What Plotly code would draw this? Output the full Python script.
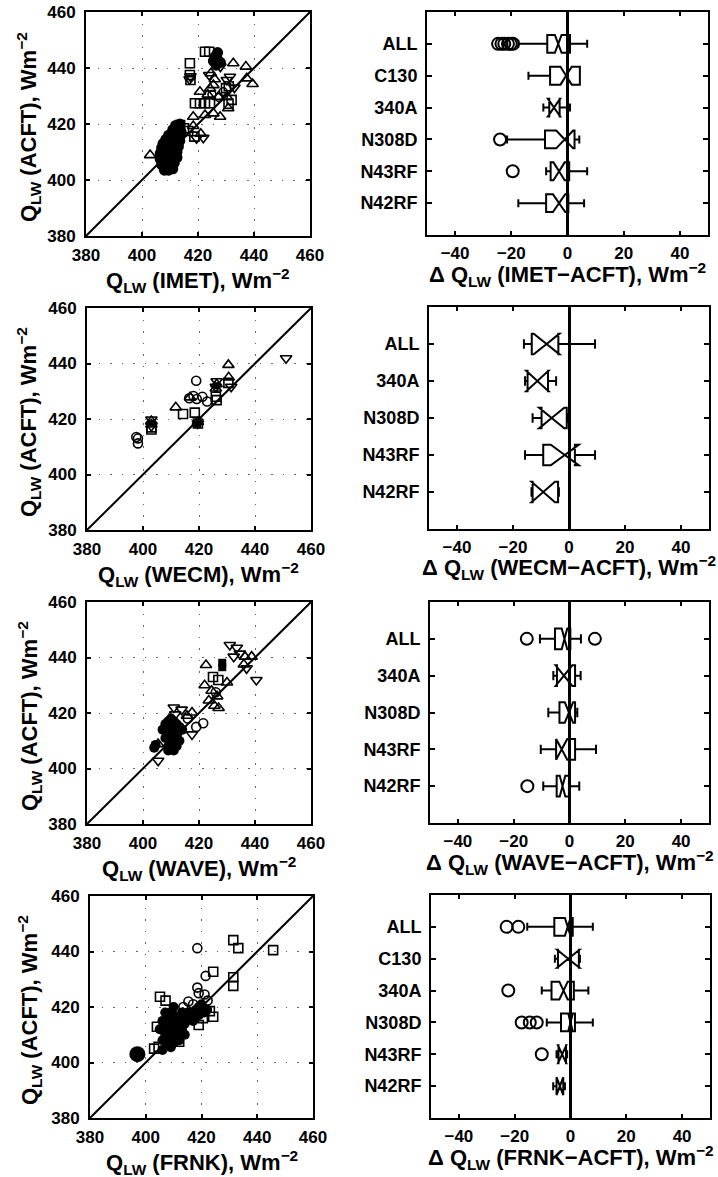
import plotly.graph_objects as go

W, H = 718, 1177
FONT = "Liberation Sans, Arial, sans-serif"

# ---------------- scatter panels: x = buoy/ship estimate, y = aircraft (ACFT) ----------------
# Panel 1: IMET
imet_sq_x = [422.5, 424.0, 417.1, 417.1, 417.3, 418.9, 420.7, 422.5, 424.3, 432.0, 430.9, 418.7, 413.6, 412.5, 430.0, 431.0, 415.0, 416.5]
imet_sq_y = [445.8, 445.8, 441.7, 437.5, 435.7, 427.4, 427.4, 427.4, 427.4, 428.6, 427.2, 415.5, 419.6, 418.8, 432.8, 433.5, 418.5, 417.5]
imet_tu_x = [402.9, 424.6, 432.6, 437.1, 439.5, 437.4, 420.7, 424.3, 425.5, 427.3, 430.3, 430.8, 427.9, 425.5, 422.5, 418.3, 418.3, 421.0, 426.0, 423.5]
imet_tu_y = [408.9, 438.1, 441.7, 440.5, 434.3, 436.3, 431.5, 432.7, 433.9, 429.7, 429.7, 425.6, 422.6, 423.8, 423.2, 422.6, 419.3, 416.5, 436.0, 430.5]
imet_td_x = [421.9, 419.5, 431.4, 430.3, 417.3, 417.0, 424.0, 428.0, 426.5, 433.0]
imet_td_y = [415.1, 414.9, 436.9, 435.7, 437.0, 436.0, 437.5, 440.5, 441.5, 433.0]
imet_co_x = [427.5, 425.0, 414.0, 429.0]
imet_co_y = [429.5, 430.5, 417.0, 431.5]
imet_fc_x = [408.0, 409.5, 411.0, 407.0, 408.5, 410.0, 411.5, 406.5, 408.0, 409.5, 411.0, 412.5, 406.5, 408.0, 409.5,
             411.0, 412.5, 407.0, 408.5, 410.0, 411.5, 413.0, 407.5, 409.0, 410.5, 412.0, 413.5, 408.5, 410.0, 411.5,
             413.0, 409.5, 411.0, 412.5, 414.0, 411.0, 412.5, 413.5, 412.0, 413.5,
             426.0, 427.0, 426.5, 427.0, 428.0, 425.5]
imet_fc_y = [403.5, 403.5, 404.0, 405.5, 405.5, 405.5, 406.0, 407.5, 407.5, 407.5, 407.5, 408.0, 409.5, 409.5, 409.5,
             409.5, 410.0, 411.5, 411.5, 411.5, 411.5, 412.0, 413.0, 413.0, 413.0, 413.5, 414.0, 414.5, 414.5, 415.0,
             415.5, 416.0, 416.5, 416.5, 417.0, 418.0, 418.0, 418.5, 419.5, 420.0,
             444.0, 443.0, 441.0, 445.5, 442.0, 442.5]

# Panel 2: WECM
wecm_sq_x = [426.3, 426.0, 414.3, 418.5, 419.6, 403.0, 403.0, 430.5]
wecm_sq_y = [426.8, 428.0, 421.8, 422.3, 418.4, 417.0, 416.2, 433.0]
wecm_tu_x = [430.5, 430.6, 426.3, 426.0, 416.8, 411.7, 419.6, 403.0, 403.0]
wecm_tu_y = [439.5, 435.0, 432.5, 431.0, 427.8, 424.2, 418.9, 419.3, 418.0]
wecm_td_x = [451.1, 431.5, 426.3, 426.0, 419.6, 403.0, 403.0]
wecm_td_y = [441.9, 431.6, 433.6, 431.6, 418.4, 419.8, 417.5]
wecm_co_x = [419.0, 418.0, 421.2, 422.9, 419.2, 398.2, 398.2, 397.6, 416.5]
wecm_co_y = [433.8, 428.3, 428.0, 426.3, 427.2, 413.0, 411.2, 413.5, 427.5]
wecm_fs_x = [419.5, 426.3, 403.0]
wecm_fs_y = [418.0, 432.0, 418.5]

# Panel 3: WAVE
wave_sq_x = [426.9, 425.0]
wave_sq_y = [431.9, 433.0]
wave_fs_x = [428.3, 428.3]
wave_fs_y = [438.1, 436.5]
wave_tu_x = [436.4, 438.8, 422.5, 422.0, 423.5, 426.5, 427.0, 424.5, 425.5, 417.5, 415.7, 405.4, 436.0, 430.0]
wave_tu_y = [440.3, 440.3, 437.3, 430.0, 424.5, 426.0, 421.8, 428.0, 422.6, 420.2, 419.0, 408.8, 437.5, 431.0]
wave_td_x = [431.0, 433.5, 434.6, 432.4, 437.0, 440.5, 413.8, 417.5, 405.4, 411.0, 411.5]
wave_td_y = [444.5, 443.5, 441.4, 440.3, 436.1, 431.9, 421.2, 412.3, 402.8, 422.0, 419.5]
wave_co_x = [421.5, 419.0, 416.0, 426.0]
wave_co_y = [416.3, 415.0, 418.0, 427.5]
wave_fc_x = [407.0, 408.0, 409.0, 410.0, 411.0, 412.0, 409.0, 410.0, 411.0, 409.0, 410.0, 411.0, 412.0, 413.0, 408.0,
             409.0, 411.0, 412.0, 413.0, 414.0, 404.5, 404.0, 408.5, 410.5, 412.5]
wave_fc_y = [414.0, 416.0, 417.0, 418.0, 417.0, 416.0, 412.0, 410.0, 408.0, 408.0, 414.0, 413.0, 411.0, 415.0, 411.0,
             406.5, 406.5, 408.0, 410.0, 414.0, 408.5, 407.5, 413.5, 415.5, 413.0]

# Panel 4: FRNK
frnk_co_x = [418.5, 421.5, 418.5, 421.1, 422.2, 415.3, 420.0, 417.0, 419.0, 413.5]
frnk_co_y = [441.2, 431.2, 427.0, 424.5, 422.3, 422.0, 419.5, 421.0, 425.0, 420.0]
frnk_sq_x = [431.4, 433.2, 445.7, 424.2, 431.4, 431.4, 405.1, 407.1, 424.2, 423.0, 404.0, 404.6, 419.0, 420.5, 412.0, 403.0]
frnk_sq_y = [444.1, 441.2, 440.5, 432.7, 430.7, 427.6, 423.7, 422.3, 416.5, 418.5, 412.9, 405.7, 413.5, 416.0, 407.5, 405.0]
frnk_big_x = [397.0]
frnk_big_y = [403.0]
frnk_fc_x = [406, 407, 408, 407, 408, 409, 410, 409, 410, 411, 412, 413, 411, 410, 409, 408, 412, 413, 414, 415, 416, 417,
             418, 419, 421, 422, 414, 406, 405, 407, 406, 408, 409, 411, 413, 415, 417, 419, 420, 410]
frnk_fc_y = [408, 410, 412, 414, 416, 418, 417, 410, 412, 414, 416, 418, 410, 407, 405.5, 406.5, 408, 412, 414, 416, 418,
             417, 419, 420, 418, 419, 410, 404.5, 412, 418, 415, 409, 414, 408, 415, 418, 415, 417, 421, 420]

diag = [380, 460]
scatter_ticks = [380, 400, 420, 440, 460]
scatter_names = ["IMET", "WECM", "WAVE", "FRNK"]

# ---------------- box panels: difference (estimate - ACFT) by aircraft ----------------
box_ticks = [-40, -20, 0, 20, 40]

imet_cats = ["ALL", "C130", "340A", "N308D", "N43RF", "N42RF"]
imet_q1 = [-7.2, -6.2, -6.5, -8.0, -6.0, -7.6]
imet_med = [-3.3, -0.5, -4.8, -1.0, -3.0, -3.0]
imet_q3 = [0.9, 4.4, -2.8, 2.5, 0.6, 0.3]
imet_lf = [-17.5, -13.9, -8.6, -21.5, -7.6, -17.5]
imet_uf = [7.0, 4.4, 0.9, 4.2, 7.0, 5.9]
imet_notch = [1.2, 2.0, 2.2, 3.0, 2.0, 2.2]
imet_out_cat = [1, 1, 1, 1, 1, 1, 4, 5]
imet_out_val = [-24.7, -23.5, -22.5, -21.2, -20.2, -19.4, -24.0, -19.5]

wecm_cats = ["ALL", "340A", "N308D", "N43RF", "N42RF"]
wecm_q1 = [-13.3, -14.8, -9.8, -9.2, -13.0]
wecm_med = [-8.0, -11.3, -6.2, -1.5, -9.2]
wecm_q3 = [-3.8, -7.5, -0.8, 2.1, -3.9]
wecm_lf = [-16.1, -15.7, -13.0, -15.7, -13.3]
wecm_uf = [9.3, -4.6, -0.3, 9.3, -3.6]
wecm_notch = [4.6, 4.0, 4.5, 5.0, 4.2]
wecm_out_cat = []
wecm_out_val = []

wave_cats = ["ALL", "340A", "N308D", "N43RF", "N42RF"]
wave_q1 = [-5.2, -4.5, -3.6, -4.8, -4.6]
wave_med = [-1.8, -2.0, -0.2, -2.8, -2.5]
wave_q3 = [0.3, 2.0, 2.0, 2.0, -0.2]
wave_lf = [-10.6, -5.8, -7.6, -10.3, -9.4]
wave_uf = [4.1, 4.0, 2.8, 9.5, 3.5]
wave_notch = [1.0, 3.0, 1.5, 2.0, 1.0]
wave_out_cat = [1, 1, 5]
wave_out_val = [-15.3, 9.1, -15.1]

frnk_cats = ["ALL", "C130", "340A", "N308D", "N43RF", "N42RF"]
frnk_q1 = [-5.8, -4.5, -6.8, -3.4, -4.3, -5.0]
frnk_med = [-1.0, -0.8, -2.5, 0.0, -3.0, -3.8]
frnk_q3 = [0.8, 3.0, 1.2, 1.6, -1.6, -2.6]
frnk_lf = [-15.5, -5.6, -10.3, -8.5, -5.0, -6.2]
frnk_uf = [8.0, 3.4, 6.4, 8.0, -1.2, -2.0]
frnk_notch = [1.0, 4.0, 1.5, 0.8, 1.5, 1.2]
frnk_out_cat = [1, 1, 3, 4, 4, 4, 5]
frnk_out_val = [-22.9, -18.7, -22.3, -17.5, -14.6, -12.1, -10.3]

# ---------------- layout geometry (pixels) ----------------
scatter_px = [(86, 310, 12, 236), (87, 311, 308, 530), (87, 311, 602, 824), (90, 313, 896, 1118)]
box_px = [(427, 708, 12, 235), (429, 709, 307, 529), (430, 709, 602, 823), (431, 710, 895, 1118)]


def dx(a, b):
    return [a / W, b / W]


def dy(top, bot):
    return [1 - bot / H, 1 - top / H]


fig = go.Figure()


def mk(sym, size, lw=1.6):
    return dict(symbol=sym, size=size, color="black", line=dict(color="black", width=lw))


scatter_sets = [
    [(imet_sq_x, imet_sq_y, mk("square-open", 9)), (imet_tu_x, imet_tu_y, mk("triangle-up-open", 10)),
     (imet_td_x, imet_td_y, mk("triangle-down-open", 10)), (imet_co_x, imet_co_y, mk("circle-open", 8)),
     (imet_fc_x, imet_fc_y, mk("circle", 11, 0))],
    [(wecm_sq_x, wecm_sq_y, mk("square-open", 9)), (wecm_tu_x, wecm_tu_y, mk("triangle-up-open", 10)),
     (wecm_td_x, wecm_td_y, mk("triangle-down-open", 10)), (wecm_co_x, wecm_co_y, mk("circle-open", 9)),
     (wecm_fs_x, wecm_fs_y, mk("square", 7, 0))],
    [(wave_sq_x, wave_sq_y, mk("square-open", 9)), (wave_fs_x, wave_fs_y, mk("square", 8, 0)),
     (wave_tu_x, wave_tu_y, mk("triangle-up-open", 10)), (wave_td_x, wave_td_y, mk("triangle-down-open", 10)),
     (wave_co_x, wave_co_y, mk("circle-open", 9)), (wave_fc_x, wave_fc_y, mk("circle", 10, 0))],
    [(frnk_co_x, frnk_co_y, mk("circle-open", 9)), (frnk_sq_x, frnk_sq_y, mk("square-open", 9)),
     (frnk_fc_x, frnk_fc_y, mk("circle", 10, 0)), (frnk_big_x, frnk_big_y, mk("circle", 16, 0))],
]

box_sets = [
    (imet_cats, imet_q1, imet_med, imet_q3, imet_lf, imet_uf, imet_notch, imet_out_cat, imet_out_val),
    (wecm_cats, wecm_q1, wecm_med, wecm_q3, wecm_lf, wecm_uf, wecm_notch, wecm_out_cat, wecm_out_val),
    (wave_cats, wave_q1, wave_med, wave_q3, wave_lf, wave_uf, wave_notch, wave_out_cat, wave_out_val),
    (frnk_cats, frnk_q1, frnk_med, frnk_q3, frnk_lf, frnk_uf, frnk_notch, frnk_out_cat, frnk_out_val),
]

layout = dict(
    template="none",
    width=W, height=H, margin=dict(l=0, r=0, t=0, b=0, pad=0, autoexpand=False),
    paper_bgcolor="white", plot_bgcolor="white", showlegend=False,
    font=dict(family=FONT, size=17, color="black", weight="bold"),
)

axis_common = dict(showline=True, linecolor="black", linewidth=2, mirror="ticks", ticks="inside",
                   ticklen=4, tickwidth=1.5, tickcolor="black", zeroline=False, automargin=False,
                   tickfont=dict(family=FONT, size=17, color="black", weight="bold"))

annotations = []
TITLE_FONT = dict(family=FONT, size=22, color="black", weight="bold")

for i in range(4):
    sx, bx = 2 * i + 1, 2 * i + 2
    xs = "x" if sx == 1 else f"x{sx}"
    ys = "y" if sx == 1 else f"y{sx}"
    xb, yb = f"x{bx}", f"y{bx}"
    l, r, t, b = scatter_px[i]
    # 1:1 line
    fig.add_trace(go.Scatter(x=diag, y=diag, mode="lines", line=dict(color="black", width=2),
                             xaxis=xs, yaxis=ys, hoverinfo="skip"))
    for (px_, py_, m) in scatter_sets[i]:
        fig.add_trace(go.Scatter(x=px_, y=py_, mode="markers", marker=m, xaxis=xs, yaxis=ys))
    layout["xaxis" if sx == 1 else f"xaxis{sx}"] = dict(
        axis_common, domain=dx(l, r), anchor=ys, range=[380, 460], tickvals=scatter_ticks,
        showgrid=True, gridcolor="#666", griddash="1.5px,10px", gridwidth=1, ticklabelstandoff=3)
    layout["yaxis" if sx == 1 else f"yaxis{sx}"] = dict(
        axis_common, domain=dy(t, b), anchor=xs, range=[380, 460], tickvals=scatter_ticks,
        showgrid=True, gridcolor="#666", griddash="1.5px,10px", gridwidth=1, ticklabelstandoff=5)
    annotations.append(dict(
        text=f"Q<sub>LW</sub> ({scatter_names[i]}), Wm<sup>\u22122</sup>", xref="paper", yref="paper",
        x=(l + r) / 2 / W, y=1 - (b + 44) / H, xanchor="center", yanchor="middle", showarrow=False,
        font=TITLE_FONT))
    annotations.append(dict(
        text="Q<sub>LW</sub> (ACFT), Wm<sup>\u22122</sup>", xref="paper", yref="paper",
        x=29 / W, y=1 - ((t + b) / 2 + 3) / H, xanchor="center", yanchor="middle", showarrow=False,
        textangle=-90, font=TITLE_FONT))

    cats, q1, med, q3, lf, uf, notch, oc, ov = box_sets[i]
    pos = list(range(1, len(cats) + 1))
    fig.add_trace(go.Box(
        y=pos, q1=q1, median=med, q3=q3, lowerfence=lf, upperfence=uf, notchspan=notch,
        notched=True, notchwidth=0.5, orientation="h", width=0.56, whiskerwidth=0.45,
        boxpoints=False, fillcolor="rgba(0,0,0,0)", line=dict(color="black", width=2),
        xaxis=xb, yaxis=yb, hoverinfo="skip"))
    if ov:
        fig.add_trace(go.Scatter(x=ov, y=oc, mode="markers", marker=mk("circle-open", 12, 2),
                                 xaxis=xb, yaxis=yb))
    l, r, t, b = box_px[i]
    layout[f"xaxis{bx}"] = dict(
        axis_common, domain=dx(l, r), anchor=yb, range=[-50, 50], tickvals=box_ticks,
        showgrid=False, zeroline=True, zerolinecolor="black", zerolinewidth=2.5, ticklabelstandoff=2)
    layout[f"yaxis{bx}"] = dict(
        axis_common, domain=dy(t, b), anchor=xb, range=[len(cats) + 1, 0], tickvals=pos,
        ticktext=cats, showgrid=False, ticklen=5, ticklabelstandoff=4,
        tickfont=dict(family=FONT, size=18, color="black", weight="bold"))
    annotations.append(dict(
        text=f"\u0394 Q<sub>LW</sub> ({scatter_names[i]}\u2212ACFT), Wm<sup>\u22122</sup>",
        xref="paper", yref="paper", x=(l + r) / 2 / W, y=1 - (b + 39) / H,
        xanchor="center", yanchor="middle", showarrow=False, font=TITLE_FONT))

layout["annotations"] = annotations
fig.update_layout(**layout)
fig.write_html("out.html")
